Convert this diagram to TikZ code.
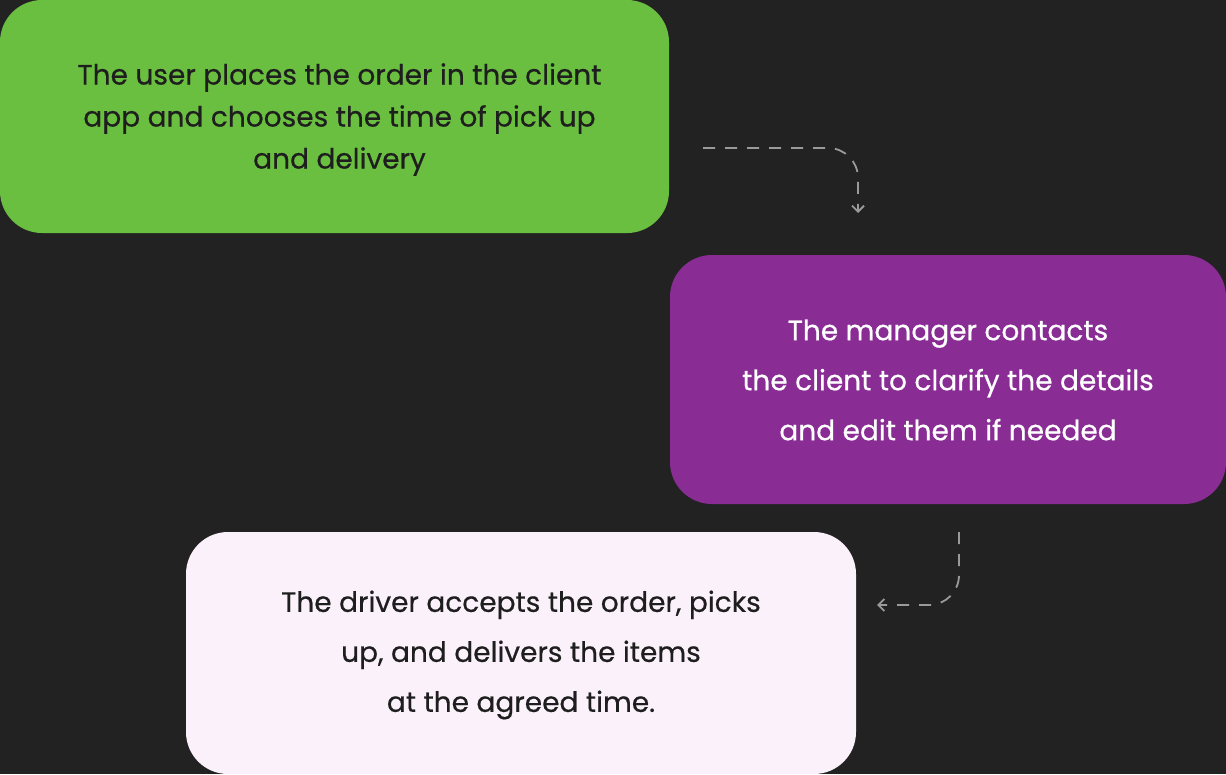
\documentclass[tikz,border=0pt]{standalone}
\usepackage{fontspec}
\setmainfont{Poppins}[FakeBold=0.5]
\usetikzlibrary{arrows.meta}
\definecolor{bg}{HTML}{222222}
\definecolor{greenbox}{HTML}{6BBF40}
\definecolor{purplebox}{HTML}{892D95}
\definecolor{pinkbox}{HTML}{FBF1FA}
\definecolor{darktext}{HTML}{1E1E1E}
\definecolor{arrowgray}{HTML}{9A9A9A}
\tikzset{
  box/.style={rounded corners=42pt, inner sep=0pt},
  flow/.style={draw=arrowgray, line width=1.8pt, rounded corners=30pt, dash pattern=on 12pt off 10pt, -{Straight Barb[length=6pt,width=12pt,line width=1.8pt]}}
}
\begin{document}
\begin{tikzpicture}[x=1pt,y=-1pt]
\fill[bg] (0,0) rectangle (1226,774);
\useasboundingbox (0,0) rectangle (1226,774);
\node[box, fill=greenbox, minimum width=669pt, minimum height=233pt] (user) at (334.5,116.5) {};
\node[text=darktext, align=center, font=\fontsize{28}{42}\selectfont] (usert) at (339.5,119.5) {The user places the order in the client\\app and chooses the time of pick up\\and delivery};
\node[box, fill=purplebox, minimum width=556pt, minimum height=249pt] (manager) at (948,379.5) {};
\node[text=white, align=center, font=\fontsize{28}{50}\selectfont] (managert) at (948,380) {The manager contacts\\the client to clarify the details\\and edit them if needed};
\node[box, fill=pinkbox, minimum width=670pt, minimum height=242pt] (driver) at (521,653) {};
\node[text=darktext, align=center, font=\fontsize{28}{50}\selectfont] (drivert) at (521,655) {The driver accepts the order, picks\\up, and delivers the items\\at the agreed time.};
\coordinate (a1s) at (703,148);
\coordinate (a1e) at (858,213);
\coordinate (a2s) at (959,532);
\coordinate (a2e) at (877,605);
\draw[flow] (a1s) -| (a1e);
\draw[flow] (a2s) |- (a2e);
\end{tikzpicture}
\end{document}
